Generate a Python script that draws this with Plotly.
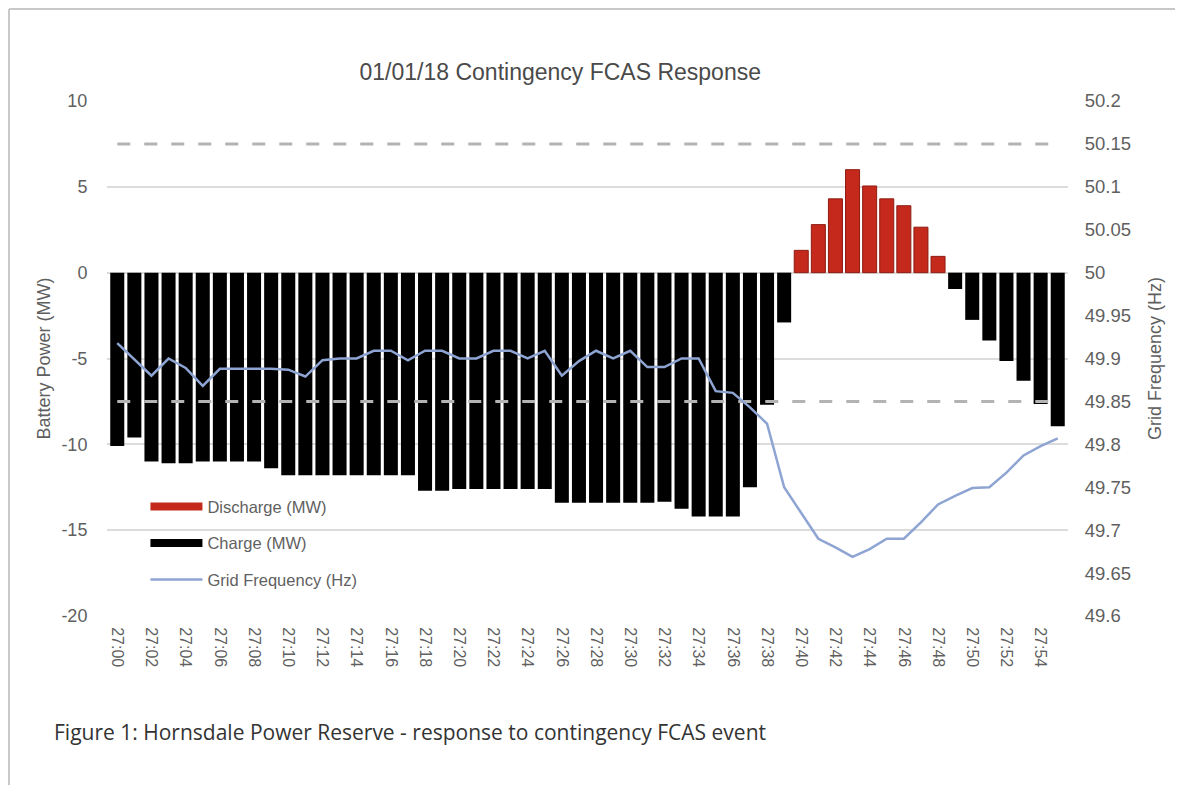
import plotly.graph_objects as go

# ── DATA ─────────────────────────────────────────────────────────────────────
TIMES = [
    "27:00", "27:01", "27:02", "27:03", "27:04", "27:05", "27:06", "27:07",
    "27:08", "27:09", "27:10", "27:11", "27:12", "27:13", "27:14", "27:15",
    "27:16", "27:17", "27:18", "27:19", "27:20", "27:21", "27:22", "27:23",
    "27:24", "27:25", "27:26", "27:27", "27:28", "27:29", "27:30", "27:31",
    "27:32", "27:33", "27:34", "27:35", "27:36", "27:37", "27:38", "27:39",
    "27:40", "27:41", "27:42", "27:43", "27:44", "27:45", "27:46", "27:47",
    "27:48", "27:49", "27:50", "27:51", "27:52", "27:53", "27:54", "27:55",
]

CHARGE_MW = [
    -10.1, -9.6, -11.0, -11.1, -11.1, -11.0, -11.0, -11.0,
    -11.0, -11.4, -11.8, -11.8, -11.8, -11.8, -11.8, -11.8,
    -11.8, -11.8, -12.7, -12.7, -12.6, -12.6, -12.6, -12.6,
    -12.6, -12.6, -13.4, -13.4, -13.4, -13.4, -13.4, -13.4,
    -13.35, -13.75, -14.2, -14.2, -14.2, -12.5, -7.7, -2.9,
    None, None, None, None, None, None, None, None,
    None, -0.95, -2.75, -3.95, -5.15, -6.3, -7.65, -8.95,
]

DISCHARGE_MW = [
    None, None, None, None, None, None, None, None,
    None, None, None, None, None, None, None, None,
    None, None, None, None, None, None, None, None,
    None, None, None, None, None, None, None, None,
    None, None, None, None, None, None, None, None,
    1.3, 2.8, 4.3, 6.0, 5.05, 4.3, 3.9, 2.65,
    0.95, None, None, None, None, None, None, None,
]

FREQ_HZ = [
    49.918, 49.899, 49.88, 49.90, 49.889, 49.868, 49.888, 49.888,
    49.888, 49.888, 49.887, 49.879, 49.898, 49.90, 49.90, 49.909,
    49.909, 49.898, 49.909, 49.909, 49.90, 49.90, 49.909, 49.909,
    49.90, 49.909, 49.88, 49.897, 49.909, 49.90, 49.909, 49.89,
    49.89, 49.90, 49.90, 49.862, 49.86, 49.843, 49.824, 49.75,
    49.72, 49.69, 49.68, 49.669, 49.678, 49.69, 49.69, 49.709,
    49.73, 49.74, 49.749, 49.75, 49.767, 49.787, 49.798, 49.807,
]

BAND_X = ["27:00", "27:55"]
UPPER_HZ = [50.15, 50.15]
LOWER_HZ = [49.85, 49.85]

MW_TICKS = [10, 5, 0, -5, -10, -15, -20]
MW_LABELS = ["10", "5", "0", "-5", "-10", "-15", "-20"]
HZ_TICKS = [50.2, 50.15, 50.1, 50.05, 50.0, 49.95, 49.9, 49.85, 49.8, 49.75, 49.7, 49.65, 49.6]
HZ_LABELS = ["50.2", "50.15", "50.1", "50.05", "50", "49.95", "49.9", "49.85",
             "49.8", "49.75", "49.7", "49.65", "49.6"]

# ── STYLE ────────────────────────────────────────────────────────────────────
RED = "#c4291c"
BLACK = "#000000"
FREQ = "#8ea4d2"
DASH = "#b3b3b3"
GRID = "#dcdcdc"
TXT = "#5f5f5f"
FONT = "Liberation Sans, Arial, sans-serif"

fig = go.Figure()

fig.add_trace(go.Bar(x=TIMES, y=CHARGE_MW, marker=dict(color=BLACK, line=dict(width=0)),
                     showlegend=False, yaxis="y"))
fig.add_trace(go.Bar(x=TIMES, y=DISCHARGE_MW,
                     marker=dict(color=RED, line=dict(color="#8e1c12", width=1)),
                     showlegend=False, yaxis="y"))

for band in (UPPER_HZ, LOWER_HZ):
    fig.add_trace(go.Scatter(x=BAND_X, y=band, mode="lines", yaxis="y2", showlegend=False,
                             line=dict(color=DASH, width=3, dash="13px,14px"),
                             hoverinfo="skip"))

fig.add_trace(go.Scatter(x=TIMES, y=FREQ_HZ, mode="lines", yaxis="y2", showlegend=False,
                         line=dict(color=FREQ, width=2.5)))

# legend swatches (wide rectangles like the original)
fig.add_trace(go.Scatter(x=[None], y=[None], mode="lines", name="Discharge (MW)",
                         line=dict(color=RED, width=8), legendgroup="a", yaxis="y"))
fig.add_trace(go.Scatter(x=[None], y=[None], mode="lines", name="Charge (MW)",
                         line=dict(color=BLACK, width=8), legendgroup="b", yaxis="y"))
fig.add_trace(go.Scatter(x=[None], y=[None], mode="lines", name="Grid Frequency (Hz)",
                         line=dict(color=FREQ, width=2.5), legendgroup="c", yaxis="y"))

fig.update_layout(
    width=1175, height=777,
    margin=dict(l=99, r=115, t=93, b=169),
    plot_bgcolor="white", paper_bgcolor="white",
    font=dict(family=FONT, color=TXT, size=16),
    barmode="relative", bargap=0.18,
    title=dict(text="01/01/18 Contingency FCAS Response", x=0.47, xanchor="center",
               y=0.918, yanchor="middle", font=dict(size=23, color="#4a4a4a")),
    legend=dict(x=0.04, y=0.246, xanchor="left", yanchor="top",
                bgcolor="rgba(0,0,0,0)", font=dict(size=16.5, color=TXT),
                traceorder="grouped", tracegroupgap=12, itemwidth=52),
    xaxis=dict(type="category", tickmode="array", tickvals=TIMES[::2], tickangle=90,
               showgrid=False, showline=False, ticks="outside", ticklen=7, tickcolor="white",
               tickfont=dict(size=16, color=TXT), range=[-0.6, len(TIMES) - 0.4]),
    yaxis=dict(range=[-20, 10], tickmode="array", tickvals=MW_TICKS, ticktext=MW_LABELS,
               showgrid=True, gridcolor=GRID, gridwidth=1.5, zeroline=False,
               showline=False, ticks="outside", ticklen=15, tickcolor="white",
               tickfont=dict(size=18, color=TXT),
               title=dict(text="Battery Power (MW)", font=dict(size=18, color=TXT), standoff=6)),
    yaxis2=dict(range=[49.6, 50.2], overlaying="y", side="right", tickmode="array",
                tickvals=HZ_TICKS, ticktext=HZ_LABELS, showgrid=False, zeroline=False,
                showline=False, ticks="outside", ticklen=12, tickcolor="white",
                tickfont=dict(size=18.5, color=TXT),
                title=dict(text="Grid Frequency (Hz)", font=dict(size=18, color=TXT), standoff=18)),
)

# caption below the chart
fig.add_annotation(text="Figure 1: Hornsdale Power Reserve - response to contingency FCAS event",
                   xref="paper", yref="paper", x=-0.057, y=-0.225, xanchor="left", yanchor="middle",
                   showarrow=False, font=dict(size=21, color="#333333", family="Open Sans, sans-serif"))

# page frame (top and left edges)
fig.add_shape(type="line", xref="paper", yref="paper", x0=-0.102, x1=1.13, y0=1.1786, y1=1.1786,
              line=dict(color="#c8c8c8", width=2))
fig.add_shape(type="line", xref="paper", yref="paper", x0=-0.102, x1=-0.102, y0=1.1786, y1=-0.33,
              line=dict(color="#c8c8c8", width=2))

fig.write_html("out.html")
